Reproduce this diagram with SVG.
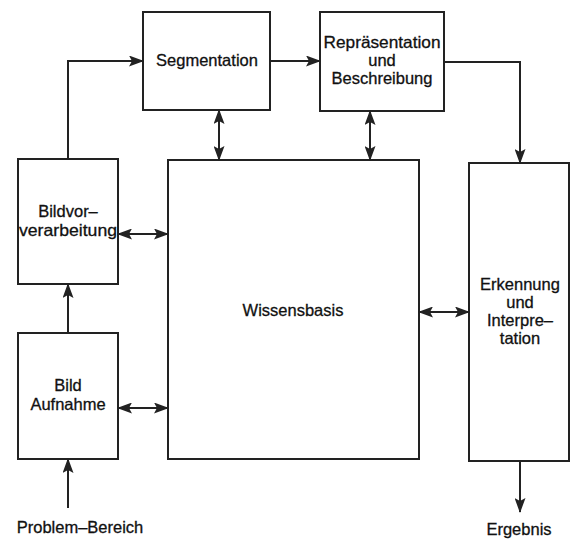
<svg xmlns="http://www.w3.org/2000/svg" width="570" height="540" viewBox="0 0 570 540">
<style>
.box{fill:#fff;stroke:#222;stroke-width:2}
.ln{fill:none;stroke:#222;stroke-width:2}
text{font-family:"Liberation Sans",Arial,sans-serif;font-size:16.5px;fill:#111;stroke:#111;stroke-width:0.3;text-anchor:middle}
</style>
<defs>
<marker id="ah" markerUnits="userSpaceOnUse" viewBox="0 0 15 11" refX="14" refY="5.5" markerWidth="15" markerHeight="11" orient="auto-start-reverse">
<path d="M0,0 L15,5.5 L0,11 L3,5.5 Z" fill="#222"/>
</marker>
</defs>
<rect width="570" height="540" fill="#fff"/>
<g id="segmentation"><rect class="box" x="143" y="12" width="127" height="98"/><text x="207" y="66">Segmentation</text></g>
<g id="repraesentation"><rect class="box" x="320" y="12" width="124" height="99"/><text x="382" y="48" textLength="117" lengthAdjust="spacingAndGlyphs">Repräsentation</text><text x="382" y="66">und</text><text x="382" y="84">Beschreibung</text></g>
<g id="bildvorverarbeitung"><rect class="box" x="18" y="159" width="100" height="125"/><text x="68" y="217">Bildvor–</text><text x="68" y="236" textLength="98" lengthAdjust="spacingAndGlyphs">verarbeitung</text></g>
<g id="wissensbasis"><rect class="box" x="168" y="160" width="251" height="299"/><text x="293" y="316">Wissensbasis</text></g>
<g id="bildaufnahme"><rect class="box" x="18" y="333" width="100" height="126"/><text x="68" y="391">Bild</text><text x="68" y="410">Aufnahme</text></g>
<g id="erkennung"><rect class="box" x="469" y="163" width="100" height="298"/><text x="520" y="290">Erkennung</text><text x="520" y="308">und</text><text x="520" y="326">Interpre–</text><text x="520" y="344">tation</text></g>
<g id="problem"><text x="80" y="533">Problem–Bereich</text></g>
<g id="ergebnis"><text x="519" y="535">Ergebnis</text></g>
<g id="connectors">
<path class="ln" d="M68,159 V61 H143" marker-end="url(#ah)"/>
<path class="ln" d="M270,61 H320" marker-end="url(#ah)"/>
<path class="ln" d="M444,62 H520 V163" marker-end="url(#ah)"/>
<path class="ln" d="M219,110 V160" marker-start="url(#ah)" marker-end="url(#ah)"/>
<path class="ln" d="M370,111 V160" marker-start="url(#ah)" marker-end="url(#ah)"/>
<path class="ln" d="M118,234 H168" marker-start="url(#ah)" marker-end="url(#ah)"/>
<path class="ln" d="M118,408 H168" marker-start="url(#ah)" marker-end="url(#ah)"/>
<path class="ln" d="M419,312 H469" marker-start="url(#ah)" marker-end="url(#ah)"/>
<path class="ln" d="M68,333 V284" marker-end="url(#ah)"/>
<path class="ln" d="M68,508 V459" marker-end="url(#ah)"/>
<path class="ln" d="M520,461 V512" marker-end="url(#ah)"/>
</g>
</svg>
